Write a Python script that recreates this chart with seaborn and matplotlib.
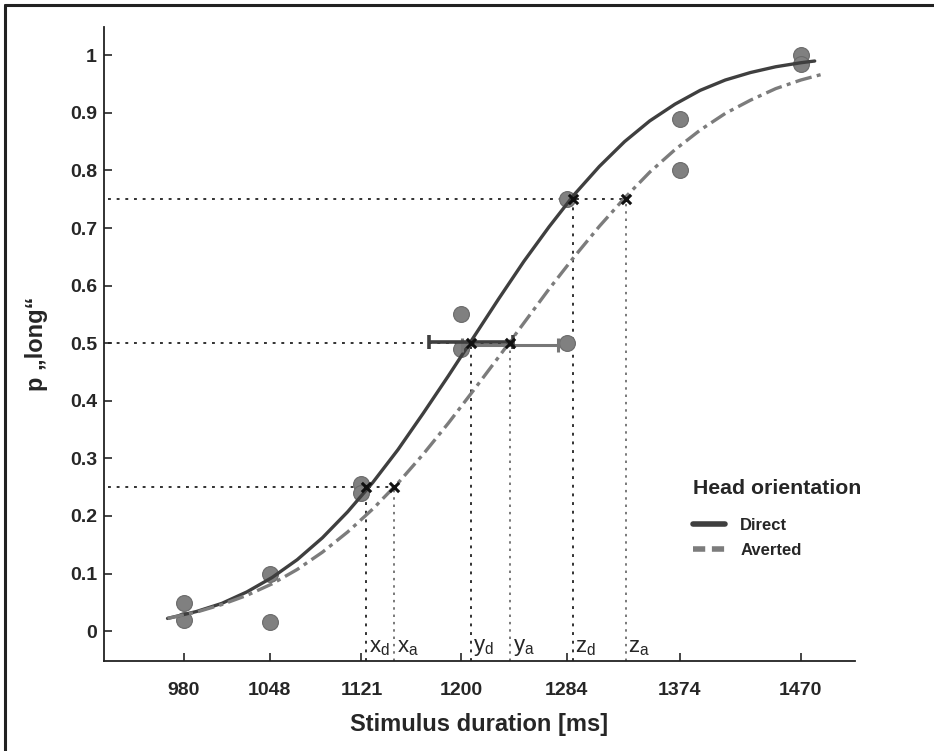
import numpy as np
import pandas as pd
import matplotlib
matplotlib.use("Agg")
import matplotlib.pyplot as plt
from matplotlib.lines import Line2D
import seaborn as sns

# observed proportions of "long" answers (two per duration)
durations = [980, 980, 1048, 1048, 1121, 1121, 1200, 1200, 1284, 1284, 1374, 1374, 1470, 1470]
p_long = [0.048, 0.020, 0.100, 0.015, 0.255, 0.240, 0.550, 0.490, 0.750, 0.500, 0.890, 0.800, 1.000, 0.985]

# fitted psychometric curves
direct_x = [967, 990, 1010, 1030, 1050, 1070, 1090, 1110, 1130, 1150, 1170, 1190, 1210, 1230,
            1250, 1270, 1290, 1310, 1330, 1350, 1370, 1390, 1410, 1430, 1450, 1470, 1481]
direct_y = [0.022, 0.034, 0.048, 0.068, 0.093, 0.124, 0.162, 0.207, 0.258, 0.315, 0.378, 0.443,
            0.510, 0.577, 0.642, 0.702, 0.758, 0.807, 0.850, 0.886, 0.915, 0.939, 0.957, 0.970,
            0.980, 0.987, 0.990]
averted_x = [967, 990, 1010, 1030, 1050, 1070, 1090, 1110, 1130, 1150, 1170, 1190, 1210, 1230,
             1250, 1270, 1290, 1310, 1330, 1350, 1370, 1390, 1410, 1430, 1450, 1470, 1487]
averted_y = [0.022, 0.033, 0.046, 0.062, 0.082, 0.107, 0.137, 0.172, 0.212, 0.257, 0.307, 0.361,
             0.418, 0.476, 0.535, 0.594, 0.650, 0.703, 0.752, 0.797, 0.836, 0.870, 0.899, 0.922,
             0.942, 0.957, 0.967]

# 25 / 50 / 75 % points
levels = [0.25, 0.5, 0.75]
direct_thr = [1125, 1208, 1289]
averted_thr = [1147, 1239, 1331]
thr_names = ["x", "y", "z"]

# PSE error bars (left, right)
direct_err = [1175, 1241]
averted_err = [1201, 1277]

xticks = [980, 1048, 1121, 1200, 1284, 1374, 1470]
yticks = [0, 0.1, 0.2, 0.3, 0.4, 0.5, 0.6, 0.7, 0.8, 0.9, 1]

sns.set_style("ticks")
plt.rcParams["font.family"] = ["Liberation Sans", "DejaVu Sans"]
plt.rcParams["mathtext.fontset"] = "custom"
plt.rcParams["mathtext.rm"] = "Liberation Sans"
plt.rcParams["mathtext.it"] = "Liberation Sans"

DARK = "#3f3f3f"
GREY = "#7c7c7c"
DOT = (0, (1.6, 3.2))

fig = plt.figure(figsize=(9.34, 7.51), dpi=100)
ax = fig.add_axes([0.1113, 0.1198, 0.8041, 0.8442])

xmin, xmax = 916.5, 1513
ymin, ymax = -0.052, 1.049

# reference lines
for lev, xd, xa in zip(levels, direct_thr, averted_thr):
    ax.plot([919.5, xa], [lev, lev], color="#222222", lw=1.3, ls=DOT, zorder=1)
    ax.plot([xd, xd], [ymin, lev], color="#222222", lw=1.3, ls=DOT, zorder=1)
    ax.plot([xa, xa], [ymin, lev], color="#555555", lw=1.1, ls=DOT, zorder=1)

pts = pd.DataFrame({"duration": durations, "p": p_long})
sns.scatterplot(data=pts, x="duration", y="p", ax=ax, color="#808080", s=130,
                edgecolor="#6a6a6a", linewidth=0.8, zorder=2, legend=False)

direct_df = pd.DataFrame({"duration": direct_x, "p": direct_y})
averted_df = pd.DataFrame({"duration": averted_x, "p": averted_y})
sns.lineplot(data=direct_df, x="duration", y="p", ax=ax, color=DARK, lw=2.4, zorder=3,
             estimator=None, legend=False)
sns.lineplot(data=averted_df, x="duration", y="p", ax=ax, color=GREY, lw=2.4,
             ls=(0, (5, 1.6, 1.2, 1.6)), zorder=3, estimator=None, legend=False)

# PSE error bars
ax.errorbar(np.mean(averted_err), 0.496, xerr=(averted_err[1] - averted_err[0]) / 2,
            color="#777777", lw=2.2, capsize=5, capthick=2.2, fmt="none", zorder=4)
ax.errorbar(np.mean(direct_err), 0.502, xerr=(direct_err[1] - direct_err[0]) / 2,
            color=DARK, lw=2.6, capsize=5, capthick=2.6, fmt="none", zorder=4)

ax.scatter(direct_thr + averted_thr, levels + levels, marker="x", color="#111111",
           s=45, linewidths=2.2, zorder=5)

for name, xd, xa in zip(thr_names, direct_thr, averted_thr):
    ax.text(xd + 2, -0.028, name + r"$_{\rm d}$", fontsize=16, ha="left", va="center")
    ax.text(xa + 2, -0.028, name + r"$_{\rm a}$", fontsize=16, ha="left", va="center")

ax.set_xlim(xmin, xmax)
ax.set_ylim(ymin, ymax)
ax.set_xticks(xticks)
ax.set_yticks(yticks)
ax.set_yticklabels(["0" if v == 0 else ("1" if v == 1 else f"{v:.1f}") for v in yticks])
ax.tick_params(direction="in", length=6, width=1.2, labelsize=14)
ax.tick_params(axis="x", pad=15)
ax.tick_params(axis="y", pad=5)
for lab in ax.get_xticklabels() + ax.get_yticklabels():
    lab.set_fontweight("bold")
ax.set_xlabel("Stimulus duration [ms]", fontsize=17, fontweight="bold", labelpad=10)
ax.set_ylabel("p \u201elong\u201c", fontsize=17, fontweight="bold", labelpad=16)
sns.despine(ax=ax)
for s in ["left", "bottom"]:
    ax.spines[s].set_linewidth(1.3)
    ax.spines[s].set_color("#222222")

handles = [Line2D([], [], color=DARK, lw=4),
           Line2D([], [], color=GREY, lw=4, ls=(0, (2.2, 1.2)))]
leg = ax.legend(handles, ["Direct", "Averted"], title="Head orientation", frameon=False,
                loc="upper left", bbox_to_anchor=(0.765, 0.31), fontsize=12,
                title_fontproperties={"weight": "bold", "size": 15.3},
                handlelength=1.9, handletextpad=0.9, labelspacing=0.6)
leg._legend_box.align = "left"
leg._legend_box.sep = 14
for t in leg.get_texts():
    t.set_fontweight("bold")

# outer frame (top and left edges visible in the crop)
fig.add_artist(Line2D([0.0058, 0.0058], [0, 0.9935], color="#222222", lw=2.2, transform=fig.transFigure))
fig.add_artist(Line2D([0.0058, 1.0], [0.9935, 0.9935], color="#222222", lw=2.2, transform=fig.transFigure))

fig.savefig("out.png", dpi=100)
